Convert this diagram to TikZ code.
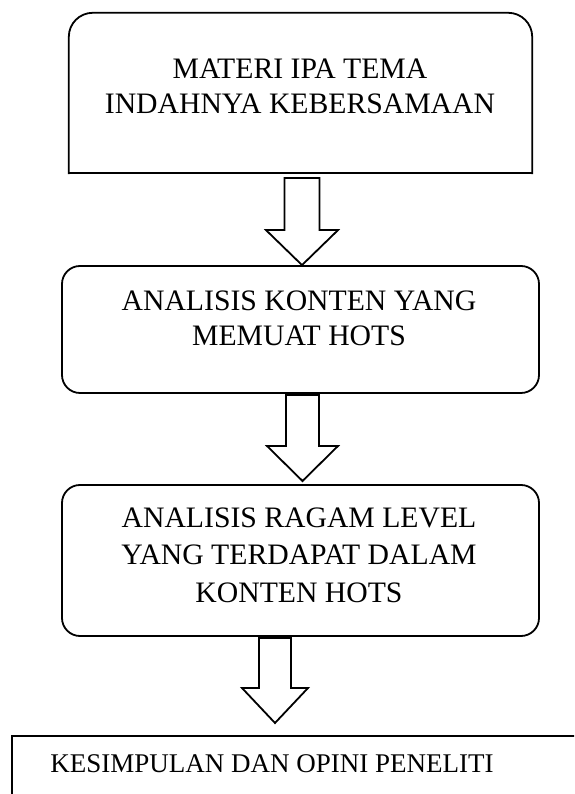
\documentclass[tikz,border=0pt]{standalone}
\usepackage{fontspec}
\setmainfont{Liberation Serif}
\usetikzlibrary{calc}

% hollow block arrow: start, tip, shaft half width, head half width
\newcommand{\blockarrow}[4]{%
  \draw[hollow] let \p1=(#1), \p2=(#2) in
    (\x1-#3,\y1) -- (\x1-#3,\y2+35pt) -- (\x1-#4,\y2+35pt) -- (\x1,\y2)
    -- (\x1+#4,\y2+35pt) -- (\x1+#3,\y2+35pt) -- (\x1+#3,\y1) -- cycle;}

\begin{document}
\begin{tikzpicture}[x=1pt, y=1pt,
    box/.style={draw, line width=1.8pt, rounded corners=18pt, inner sep=0pt},
    txt/.style={align=center, inner sep=0pt, font=\fontsize{29.7}{35}\selectfont},
    hollow/.style={draw, line width=1.8pt, line join=miter}]
    \useasboundingbox (0,0) rectangle (574,794);
    \clip (0,0) rectangle (574,794);

    % Nodes
    \node[minimum width=463pt, minimum height=160pt, inner sep=0pt] (materi) at (300.5,701) {};
    \draw[line width=1.8pt, line cap=rect, rounded corners=24pt] (materi.south west) -- (materi.north west) -- (materi.north east) -- (materi.south east);
    \draw[line width=1.8pt, line cap=rect] (materi.south west) -- (materi.south east);
    \node[txt] (materitxt) at (300,708) {MATERI IPA TEMA\\INDAHNYA KEBERSAMAAN};

    \node[box, minimum width=477pt, minimum height=127pt] (konten) at (300.5,464.5) {};
    \node[txt] (kontentxt) at (299,476) {ANALISIS KONTEN YANG\\MEMUAT HOTS};

    \node[box, minimum width=477pt, minimum height=151pt] (ragam) at (300.5,233.5) {};
    \node[txt, font=\fontsize{29.7}{37.5}\selectfont] (ragamtxt) at (299,239) {ANALISIS RAGAM LEVEL\\YANG TERDAPAT DALAM\\KONTEN HOTS};

    \node[draw, line width=1.8pt, anchor=north west, minimum width=580pt, minimum height=80pt] (simpulan) at (11,59) {};
    \node[txt, font=\fontsize{27}{33}\selectfont] (simpulantxt) at (272,30) {KESIMPULAN DAN OPINI PENELITI};

    % Arrow ends
    \coordinate (a1) at (302,616);
    \coordinate (a2) at (302.5,399);
    \coordinate (t2) at (302.5,313);
    \coordinate (a3) at (275,156);
    \coordinate (t3) at (275,71);

    % Edges
    \blockarrow{a1}{a1 |- konten.north}{17.5pt}{36pt}
    \blockarrow{a2}{t2}{16.5pt}{35.5pt}
    \blockarrow{a3}{t3}{16pt}{33pt}
\end{tikzpicture}
\end{document}
